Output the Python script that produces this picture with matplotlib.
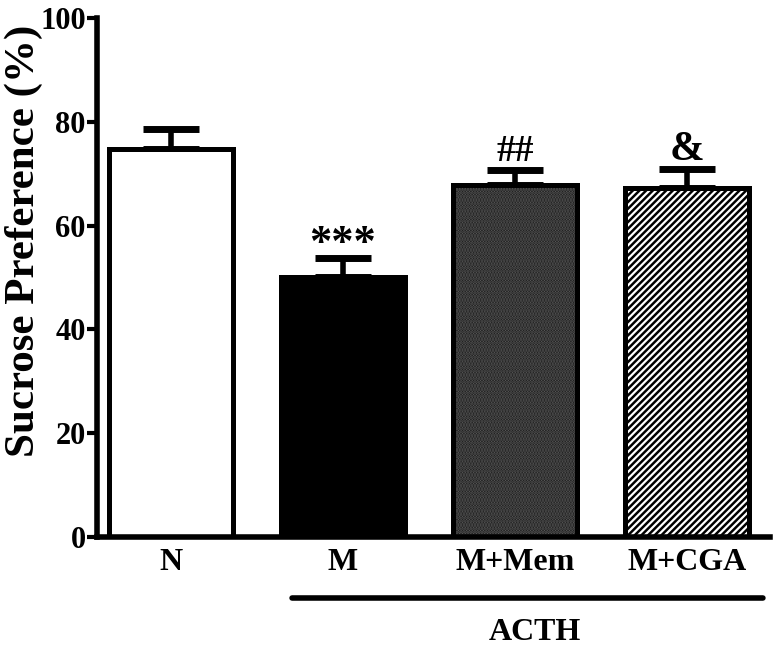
import matplotlib
matplotlib.use('Agg')
import matplotlib.pyplot as plt
import numpy as np

groups = ['N', 'M', 'M+Mem', 'M+CGA']
means = [74.8, 50.2, 67.8, 67.2]
sems = [3.8, 3.6, 2.9, 3.8]
marks = ['', '***', '##', '&']
mark_sizes = [0, 32, 27, 30]

plt.rcParams['font.family'] = ['Liberation Serif', 'DejaVu Serif']
plt.rcParams['font.weight'] = 'bold'
plt.rcParams['hatch.linewidth'] = 1.6

fig = plt.figure(figsize=(7.79, 6.46), dpi=100)
ax = fig.add_axes([0.1245, 0.1687, 0.8635, 0.8033])

x = np.arange(len(groups))
width = 0.72
lw = 3.6

# N: white, M: black
ax.bar(x[0], means[0], width, facecolor='white', edgecolor='black', linewidth=lw, zorder=2)
ax.bar(x[1], means[1], width, facecolor='black', edgecolor='black', linewidth=lw, zorder=2)
# M+Mem: very dark fill with faint grey dots
ax.bar(x[2], means[2], width, facecolor='#111111', edgecolor='#5a5a5a', hatch='......', linewidth=0, zorder=2)
ax.bar(x[2], means[2], width, facecolor='none', edgecolor='black', linewidth=lw, zorder=3)
# M+CGA: white diagonal stripes on black
ax.bar(x[3], means[3], width, facecolor='black', edgecolor='white', hatch='/////', linewidth=0, zorder=2)
ax.bar(x[3], means[3], width, facecolor='none', edgecolor='black', linewidth=lw, zorder=3)

# upper error bars only
ax.errorbar(x, means, yerr=[np.zeros(len(sems)), sems], fmt='none', ecolor='black',
            elinewidth=4, capsize=20, capthick=5, zorder=1)

offsets = [0, 0.6, 1.8, 1.6]
for xi, m, s, t, fs, off in zip(x, means, sems, marks, mark_sizes, offsets):
    if t:
        ax.text(xi, m + s + off, t, ha='center', va='baseline', fontsize=fs, fontweight='bold')

ax.set_xlim(-0.43, 3.48)
ax.set_ylim(0, 100)
ax.set_yticks([0, 20, 40, 60, 80, 100])
ax.set_xticks(x)
ax.set_xticklabels(groups)
ax.tick_params(axis='y', labelsize=22, width=3, length=7, direction='out', pad=1)
ax.tick_params(axis='x', labelsize=23, length=0, pad=8)
for lab in ax.get_xticklabels() + ax.get_yticklabels():
    lab.set_fontweight('bold')
ax.set_ylabel('Sucrose Preference (%)', fontsize=31, fontweight='bold')
ax.yaxis.set_label_coords(-0.08, 0.57)

for side in ['top', 'right']:
    ax.spines[side].set_visible(False)
for side in ['left', 'bottom']:
    ax.spines[side].set_linewidth(4)

# ACTH grouping line
ax.annotate('', xy=(0.29, -0.1175), xytext=(0.99, -0.1175), xycoords='axes fraction',
            arrowprops=dict(arrowstyle='-', lw=4, color='black', shrinkA=0, shrinkB=0),
            annotation_clip=False)
fig.text(535 / 779, 1 - 633 / 646, 'ACTH', ha='center', va='center', fontsize=23, fontweight='bold')

fig.savefig('out.png', dpi=100)
